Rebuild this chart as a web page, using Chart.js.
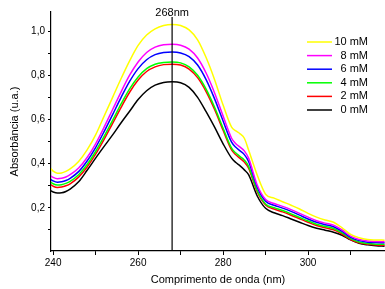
<!DOCTYPE html>
<html>
<head>
<meta charset="utf-8">
<script src="https://cdn.jsdelivr.net/npm/chart.js@4/dist/chart.umd.min.js"></script>
<style>
html,body{margin:0;padding:0;background:#fff;}
#wrap{width:385px;height:289px;position:relative;}
</style>
</head>
<body>
<div id="wrap"><canvas id="c" width="385" height="289"></canvas></div>
<script>
const wavelengths = [239,240,241,242,243,244,246,248,250,252,254,256,258,260,262,264,266,268,270,272,274,276,278,280,282,283,284,285,286,288,290,292,294,296,298,300,302,304,306,308,310,312,314,316,318];

const abs10mM = [0.388,0.366,0.357,0.358,0.365,0.376,0.410,0.462,0.530,0.615,0.700,0.785,0.865,0.935,0.982,1.010,1.025,1.030,1.025,1.005,0.960,0.880,0.780,0.665,0.565,0.548,0.535,0.515,0.462,0.350,0.262,0.244,0.228,0.212,0.195,0.175,0.158,0.145,0.135,0.110,0.080,0.065,0.057,0.055,0.054];
const abs8mM  = [0.350,0.338,0.332,0.334,0.340,0.350,0.380,0.428,0.490,0.565,0.645,0.725,0.800,0.860,0.903,0.927,0.938,0.940,0.936,0.918,0.878,0.810,0.720,0.615,0.515,0.490,0.475,0.458,0.425,0.305,0.238,0.220,0.207,0.192,0.175,0.158,0.142,0.131,0.122,0.100,0.072,0.057,0.050,0.048,0.047];
const abs6mM  = [0.335,0.322,0.316,0.318,0.324,0.334,0.364,0.412,0.473,0.545,0.622,0.700,0.772,0.830,0.870,0.893,0.903,0.905,0.901,0.884,0.846,0.780,0.693,0.593,0.497,0.474,0.458,0.441,0.410,0.295,0.230,0.212,0.199,0.184,0.167,0.150,0.135,0.124,0.115,0.094,0.067,0.052,0.045,0.043,0.042];
const abs4mM  = [0.322,0.309,0.303,0.305,0.311,0.320,0.350,0.396,0.455,0.523,0.596,0.670,0.738,0.792,0.830,0.850,0.858,0.860,0.856,0.838,0.800,0.737,0.655,0.560,0.470,0.448,0.432,0.416,0.388,0.280,0.218,0.201,0.188,0.173,0.157,0.141,0.126,0.116,0.107,0.087,0.061,0.046,0.039,0.036,0.035];
const abs2mM  = [0.310,0.298,0.292,0.294,0.300,0.309,0.339,0.385,0.443,0.510,0.582,0.655,0.723,0.778,0.817,0.838,0.848,0.850,0.846,0.828,0.789,0.726,0.645,0.551,0.462,0.440,0.424,0.407,0.380,0.274,0.213,0.195,0.182,0.167,0.151,0.135,0.120,0.110,0.101,0.082,0.057,0.042,0.035,0.032,0.031];
const abs0mM  = [0.282,0.272,0.267,0.268,0.274,0.285,0.318,0.370,0.425,0.478,0.530,0.585,0.637,0.690,0.730,0.755,0.767,0.770,0.766,0.745,0.700,0.635,0.565,0.490,0.425,0.405,0.390,0.372,0.350,0.255,0.198,0.178,0.165,0.150,0.135,0.120,0.108,0.099,0.090,0.076,0.055,0.040,0.033,0.029,0.027];

const seriesLabels = ['10 mM','8 mM','6 mM','4 mM','2 mM','0 mM'];
const seriesValues = [abs10mM, abs8mM, abs6mM, abs4mM, abs2mM, abs0mM];
const seriesColors = ['#ffff00','#ff00ff','#0000ff','#00ff00','#ff0000','#000000'];

const markerWavelength = 268;
const markerLabel = '268nm';
const markerTop = 1.063;

const xTickValues = [240,250,260,270,280,290,300,310];
const xTickLabels = ['240','','260','','280','','300',''];
const yTickValues = [0.1,0.2,0.3,0.4,0.5,0.6,0.7,0.8,0.9,1.0];
const yTickLabels = ['','0,2','','0,4','','0,6','','0,8','','1,0'];

const FONT = '"Liberation Sans", Arial, sans-serif';

const datasets = seriesValues.map((vals, i) => ({
  label: seriesLabels[i],
  data: wavelengths.map((w, j) => ({x: w, y: vals[j]})),
  borderColor: seriesColors[i],
  borderWidth: 1.5,
  pointRadius: 0,
  cubicInterpolationMode: 'monotone',
  fill: false,
  order: i
}));
datasets.push({
  label: 'marker',
  data: [{x: markerWavelength, y: 0}, {x: markerWavelength, y: markerTop}],
  borderColor: '#000',
  borderWidth: 1.2,
  pointRadius: 0,
  tension: 0,
  order: -1
});

const overlay = {
  id: 'overlay',
  afterDraw(chart) {
    const ctx = chart.ctx;
    const xs = chart.scales.x, ys = chart.scales.y;
    ctx.save();
    ctx.fillStyle = '#000';
    ctx.font = '11px ' + FONT;
    ctx.textAlign = 'center';
    ctx.textBaseline = 'middle';
    ctx.fillText(markerLabel, xs.getPixelForValue(markerWavelength), ys.getPixelForValue(markerTop) - 4);
    const lx0 = 307, lx1 = 332, tx = 368;
    let ly = 42;
    seriesLabels.forEach((lab, i) => {
      ctx.strokeStyle = seriesColors[i];
      ctx.lineWidth = 1.5;
      ctx.beginPath();
      ctx.moveTo(lx0, ly); ctx.lineTo(lx1, ly);
      ctx.stroke();
      ctx.fillStyle = '#000';
      ctx.textAlign = 'right';
      ctx.fillText(lab, tx, ly);
      ly += 13.6;
    });
    ctx.restore();
  }
};

new Chart(document.getElementById('c'), {
  type: 'line',
  data: { datasets },
  options: {
    responsive: false,
    animation: false,
    layout: { padding: { top: 12, left: 0, right: 0, bottom: 0 } },
    plugins: { legend: { display: false }, tooltip: { enabled: false } },
    scales: {
      x: {
        type: 'linear',
        min: 239.5, max: 318.1,
        afterBuildTicks: s => { s.ticks = xTickValues.map(v => ({value: v})); },
        afterFit: s => { s.height = 38; },
        border: { display: true, color: '#000', width: 1.2 },
        grid: { drawOnChartArea: false, drawTicks: true, tickLength: 4, color: '#000' },
        ticks: {
          color: '#000', font: { family: FONT, size: 10 }, padding: 2, maxRotation: 0, autoSkip: false,
          callback: (v) => { const k = xTickValues.indexOf(v); return k >= 0 ? xTickLabels[k] : ''; }
        },
        title: { display: true, text: 'Comprimento de onda (nm)', color: '#000', font: { family: FONT, size: 11 }, padding: { top: 0, bottom: 2 } }
      },
      y: {
        min: 0.005, max: 1.086,
        afterBuildTicks: s => { s.ticks = yTickValues.map(v => ({value: v})); },
        afterFit: s => { s.width = 51; },
        border: { display: true, color: '#000', width: 1.2 },
        grid: { drawOnChartArea: false, drawTicks: true, tickLength: 3, color: '#000' },
        ticks: {
          color: '#000', font: { family: FONT, size: 10 }, padding: 3, autoSkip: false,
          callback: (v) => { const k = yTickValues.findIndex(t => Math.abs(t - v) < 1e-6); return k >= 0 ? yTickLabels[k] : ''; }
        },
        title: { display: true, text: 'Absorbância (u.a.)', color: '#000', font: { family: FONT, size: 11 }, padding: { top: 8, bottom: 0 } }
      }
    }
  },
  plugins: [overlay]
});
</script>
</body>
</html>
